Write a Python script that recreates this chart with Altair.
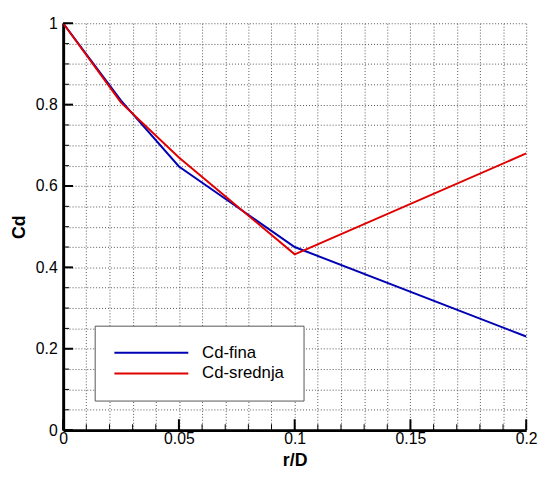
import altair as alt
import pandas as pd

# ---- data ----
r_D = [0.0, 0.025, 0.05, 0.1, 0.2]
cd_fina = [1.0, 0.81, 0.648, 0.45, 0.23]
cd_srednja = [1.0, 0.805, 0.67, 0.432, 0.68]
series_names = ["Cd-fina", "Cd-srednja"]
series_colors = ["#0000b4", "#e00000"]

# tick / grid positions
x_grid_values = [0.0, 0.01, 0.02, 0.03, 0.04, 0.05, 0.06, 0.07, 0.08, 0.09, 0.1,
                 0.11, 0.12, 0.13, 0.14, 0.15, 0.16, 0.17, 0.18, 0.19, 0.2]
x_major_values = [0.0, 0.05, 0.1, 0.15, 0.2]
y_grid_values = [0.0, 0.05, 0.1, 0.15, 0.2, 0.25, 0.3, 0.35, 0.4, 0.45, 0.5,
                 0.55, 0.6, 0.65, 0.7, 0.75, 0.8, 0.85, 0.9, 0.95, 1.0]
y_major_values = [0.0, 0.2, 0.4, 0.6, 0.8, 1.0]

W, H = 470, 413
FONT = "Liberation Sans"

rows = []
for name, vals in zip(series_names, [cd_fina, cd_srednja]):
    for x, y in zip(r_D, vals):
        rows.append({"r": x, "cd": y, "series": name})
df = pd.DataFrame(rows)

xscale = alt.Scale(domain=[0, 0.2], nice=False, zero=False)
yscale = alt.Scale(domain=[0, 1], nice=False, zero=False)

x_axis = alt.Axis(
    values=x_grid_values, title="r/D", grid=True, ticks=False,
    labelExpr="round(datum.value*100) % 5 == 0 ? format(datum.value, '~g') : ''",
    labelFlush=False, labelOverlap=False, labelPadding=1,
    titleBaseline="alphabetic", titleY=36,
)
y_axis = alt.Axis(
    values=y_grid_values, title="Cd", grid=True, ticks=False,
    labelExpr="round(datum.value*20) % 4 == 0 ? format(datum.value, '~g') : ''",
    labelFlush=False, labelOverlap=False, labelPadding=6,
    titleBaseline="alphabetic", titleX=-39,
)

lines = alt.Chart(df).mark_line(strokeWidth=2).encode(
    x=alt.X("r:Q", scale=xscale, axis=x_axis),
    y=alt.Y("cd:Q", scale=yscale, axis=y_axis),
    color=alt.Color(
        "series:N",
        scale=alt.Scale(domain=series_names, range=series_colors),
        legend=alt.Legend(
            orient="none", legendX=32, legendY=307, title=None,
            symbolType="M-5,0H5", symbolSize=225, symbolStrokeWidth=2,
            symbolOffset=30,
            labelFontSize=17, labelFont=FONT, labelOffset=43, rowPadding=3,
            labelColor="black",
            padding=19, strokeColor="#555555", fillColor="white",
        ),
    ),
    order=alt.Order("r:Q"),
)

xminor = alt.Chart(pd.DataFrame({"r": x_grid_values})).mark_rule(color="black", strokeWidth=1).encode(
    x=alt.X("r:Q", scale=xscale, axis=x_axis), y=alt.value(H), y2=alt.value(H - 6))
xmajor = alt.Chart(pd.DataFrame({"r": x_major_values})).mark_rule(color="black", strokeWidth=2).encode(
    x=alt.X("r:Q", scale=xscale, axis=x_axis), y=alt.value(H), y2=alt.value(H - 11))
yminor = alt.Chart(pd.DataFrame({"cd": y_grid_values})).mark_rule(color="black", strokeWidth=1).encode(
    y=alt.Y("cd:Q", scale=yscale, axis=y_axis), x=alt.value(0), x2=alt.value(6))
ymajor = alt.Chart(pd.DataFrame({"cd": y_major_values})).mark_rule(color="black", strokeWidth=2).encode(
    y=alt.Y("cd:Q", scale=yscale, axis=y_axis), x=alt.value(0), x2=alt.value(10))

chart = alt.layer(lines, xminor, xmajor, yminor, ymajor).properties(
    width=W, height=H,
    background="white",
    autosize=alt.AutoSizeParams(type="none"),
    padding={"left": 56, "top": 12, "right": 13, "bottom": 37},
).configure_view(stroke=None).configure_axis(
    gridColor="#555555", gridDash=[1, 2], gridWidth=1, gridOpacity=1,
    domainColor="black", domainWidth=3,
    labelFont=FONT, labelFontSize=16, labelColor="black",
    titleFont=FONT, titleFontSize=18, titleFontWeight="bold", titleColor="black",
)

chart.save("out.html", embed_options={"renderer": "svg", "actions": False})
